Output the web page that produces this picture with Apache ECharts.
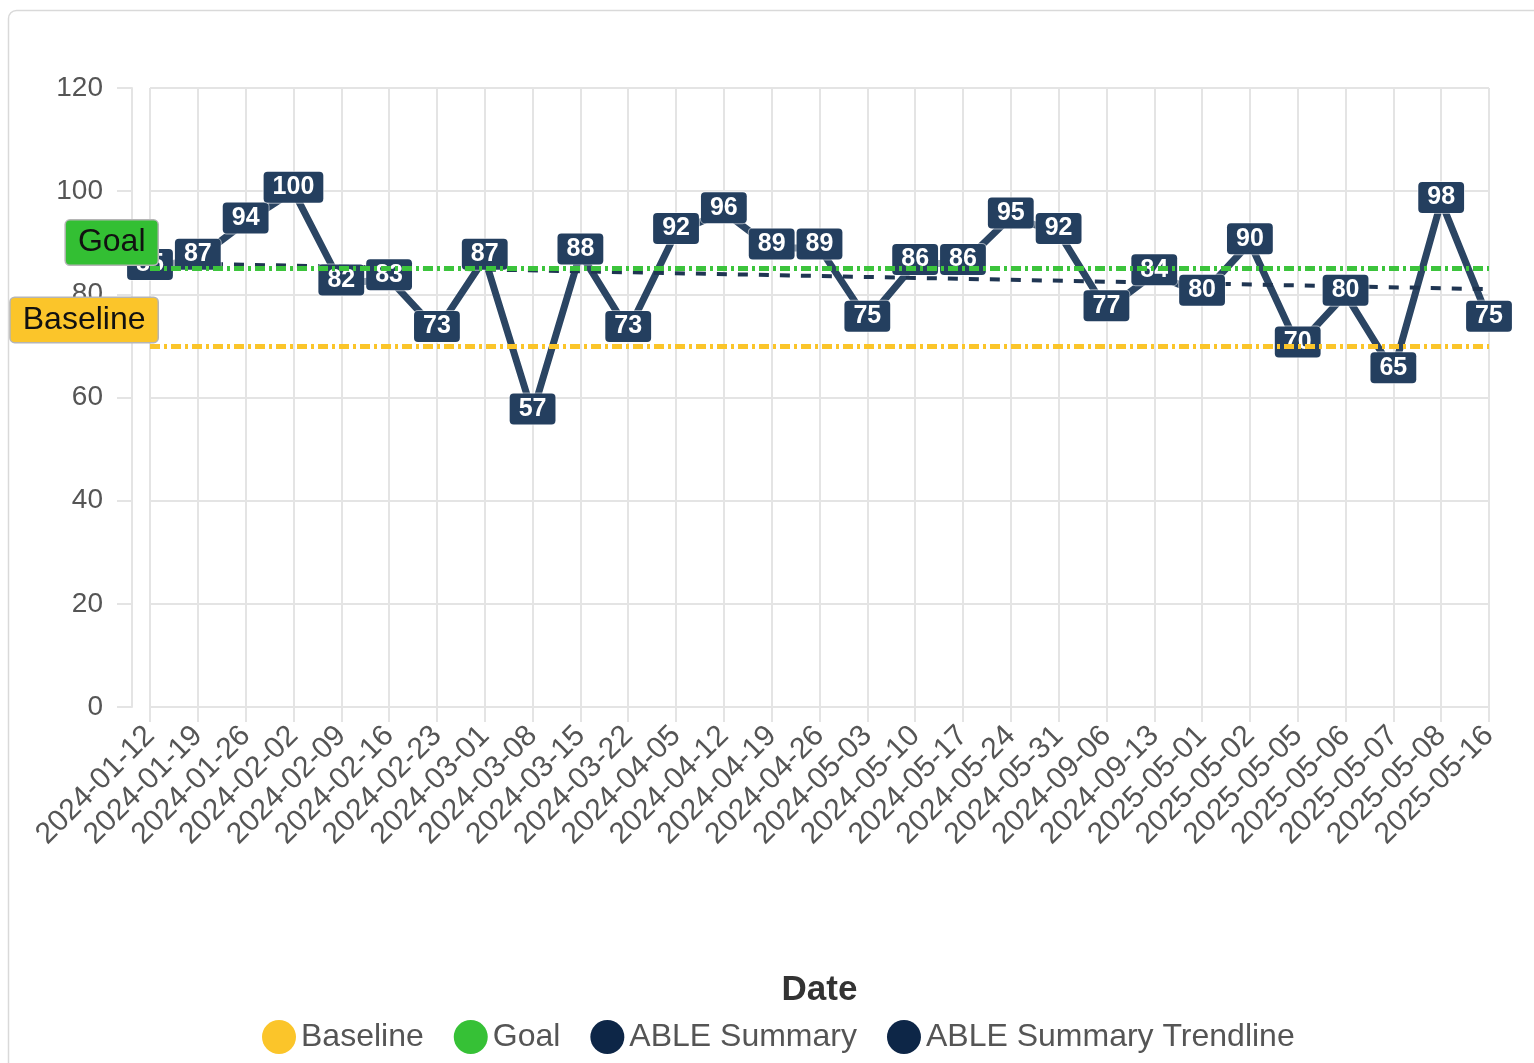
<!DOCTYPE html>
<html>
<head>
<meta charset="utf-8">
<script src="https://cdn.jsdelivr.net/npm/echarts@6/dist/echarts.min.js"></script>
<style>
html,body{margin:0;padding:0;background:#fff;}
#chart{width:1534px;height:1063px;}
</style>
</head>
<body>
<div id="chart"></div>
<script>
const categories = ['2024-01-12','2024-01-19','2024-01-26','2024-02-02','2024-02-09','2024-02-16','2024-02-23','2024-03-01','2024-03-08','2024-03-15','2024-03-22','2024-04-05','2024-04-12','2024-04-19','2024-04-26','2024-05-03','2024-05-10','2024-05-17','2024-05-24','2024-05-31','2024-09-06','2024-09-13','2025-05-01','2025-05-02','2025-05-05','2025-05-06','2025-05-07','2025-05-08','2025-05-16'];
const ableSummary = [85,87,94,100,82,83,73,87,57,88,73,92,96,89,89,75,86,86,95,92,77,84,80,90,70,80,65,98,75];
const baselineValue = 70;
const goalValue = 85;
const trendStart = 86.1;
const trendEnd = 81.0;
const yTicks = [0,20,40,60,80,100,120];

const FONT = '"Liberation Sans", Arial, sans-serif';
const trendData = categories.map(() => null);
trendData[0] = trendStart;
trendData[trendData.length - 1] = trendEnd;

const chart = echarts.init(document.getElementById('chart'));
const gridColor = '#e4e4e4';
const dashPat = [10, 4, 3, 4];
const hidden = {color: 'rgba(0,0,0,0)', opacity: 1};

const option = {
  animation: false,
  textStyle: {fontFamily: FONT},
  graphic: [{
    type: 'rect', silent: true, z: -10,
    shape: {x: 8.5, y: 10.5, width: 1700, height: 1200, r: 8},
    style: {fill: 'none', stroke: '#d9d9d9', lineWidth: 1.5}
  }],
  grid: {left: 150, right: 45, top: 88, bottom: 356, containLabel: false},
  legend: {
    data: ['Baseline', 'Goal', 'ABLE Summary', 'ABLE Summary Trendline'],
    left: 257, top: 1015,
    icon: 'circle', itemWidth: 34, itemHeight: 34, itemGap: 30,
    textStyle: {fontSize: 32, color: '#555', fontFamily: FONT}
  },
  xAxis: {
    type: 'category', data: categories, boundaryGap: false,
    name: 'Date', nameLocation: 'middle', nameGap: 266,
    nameTextStyle: {fontSize: 35, fontWeight: 'bold', color: '#333', fontFamily: FONT},
    axisLine: {show: false},
    axisTick: {show: true, length: 15, lineStyle: {color: gridColor, width: 2}},
    splitLine: {show: true, lineStyle: {color: gridColor, width: 2}},
    axisLabel: {rotate: 45, interval: 0, fontSize: 30, color: '#555', margin: 24, fontFamily: FONT}
  },
  yAxis: {
    type: 'value', min: yTicks[0], max: yTicks[yTicks.length - 1], interval: 20,
    offset: 18,
    axisLine: {show: true, lineStyle: {color: gridColor, width: 2}},
    axisTick: {show: true, length: 15, lineStyle: {color: gridColor, width: 2}},
    splitLine: {show: true, lineStyle: {color: gridColor, width: 2}},
    axisLabel: {fontSize: 28, color: '#555', margin: 29, fontFamily: FONT}
  },
  series: [
    {
      name: 'Baseline', type: 'line', data: [], z: 3,
      itemStyle: {color: '#fbc52a'}, lineStyle: {color: '#fbc52a'},
      markLine: {
        silent: true, symbol: ['none', 'none'], label: {show: false},
        lineStyle: {color: '#fbc52a', width: 5, type: dashPat, opacity: 1},
        data: [{yAxis: baselineValue}]
      }
    },
    {
      name: 'Goal', type: 'line', data: [], z: 3,
      itemStyle: {color: '#36c136'}, lineStyle: {color: '#36c136'},
      markLine: {
        silent: true, symbol: ['none', 'none'], label: {show: false},
        lineStyle: {color: '#3cc43c', width: 5, type: dashPat, opacity: 1},
        data: [{yAxis: goalValue}]
      }
    },
    {
      name: 'ABLE Summary', type: 'line', data: ableSummary, z: 2,
      showSymbol: false, symbol: 'circle',
      itemStyle: {color: '#0d2647'},
      lineStyle: {color: '#2b4563', width: 7}
    },
    {
      name: 'ABLE Summary Trendline', type: 'line', data: trendData, z: 2,
      connectNulls: true, showSymbol: false, symbol: 'circle',
      itemStyle: {color: '#0d2647'},
      lineStyle: {color: '#1f3552', width: 4, type: [10, 11]}
    },
    {
      name: 'ableLabels', type: 'scatter', data: ableSummary, z: 4,
      symbolSize: 1, itemStyle: hidden, silent: true,
      label: {
        show: true, position: 'inside', offset: [0, -4],
        color: '#fff', fontWeight: 'bold', fontSize: 25, fontFamily: FONT,
        backgroundColor: '#243f5f', borderColor: 'rgba(255,255,255,0.55)', borderWidth: 1,
        borderRadius: 4, padding: [3, 9]
      }
    },
    {
      name: 'goalLabel', type: 'scatter', data: [goalValue], z: 5,
      symbolSize: 1, itemStyle: hidden, silent: true,
      label: {
        show: true, position: 'left', distance: 0, offset: [8, -26],
        formatter: 'Goal', color: '#111', fontSize: 32, fontFamily: FONT,
        backgroundColor: '#33bf33', borderColor: '#b5b5b5', borderWidth: 1.5,
        borderRadius: 4, padding: [6, 12]
      }
    },
    {
      name: 'baselineLabel', type: 'scatter', data: [baselineValue], z: 5,
      symbolSize: 1, itemStyle: hidden, silent: true,
      label: {
        show: true, position: 'left', distance: 0, offset: [8, -26],
        formatter: 'Baseline', color: '#111', fontSize: 32, fontFamily: FONT,
        backgroundColor: '#fbc52a', borderColor: '#b5b5b5', borderWidth: 1.5,
        borderRadius: 4, padding: [6, 12]
      }
    }
  ]
};
chart.setOption(option);
</script>
</body>
</html>
